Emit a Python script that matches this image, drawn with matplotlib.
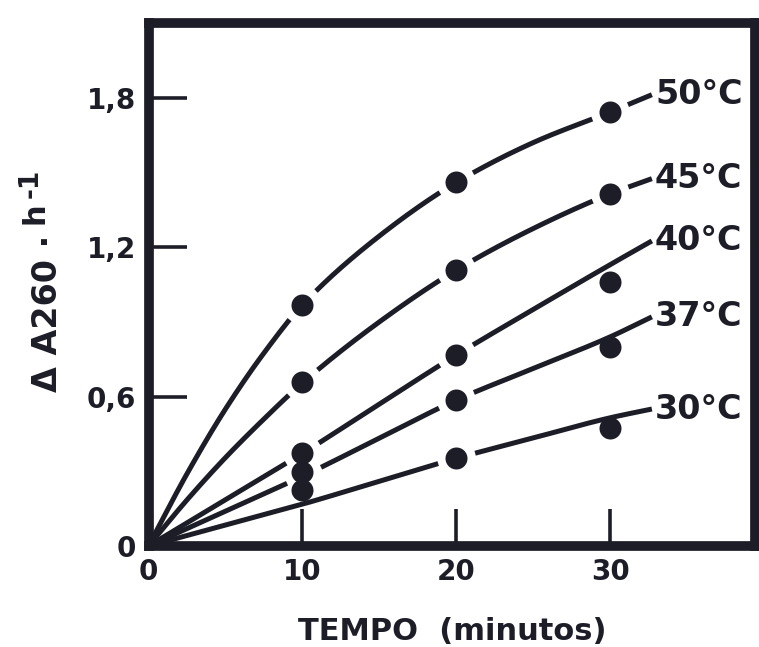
import numpy as np
import matplotlib
matplotlib.use("Agg")
import matplotlib.pyplot as plt

# Hydrolysis kinetics: change in A260 per hour vs. incubation time
time_min = np.array([10, 20, 30])
temps = ["50°C", "45°C", "40°C", "37°C", "30°C"]

a260_50 = [0.968, 1.460, 1.743]
a260_45 = [0.659, 1.108, 1.414]
a260_40 = [0.373, 0.767, 1.060]
a260_37 = [0.297, 0.586, 0.800]
a260_30 = [0.225, 0.353, 0.474]

# hand-drawn trend curves, sampled at these times
curve_t = np.array([0, 2.5, 5, 7.5, 10, 15, 20, 25, 30, 32.7])
curve_50 = [0, 0.290, 0.550, 0.775, 0.968, 1.245, 1.460, 1.620, 1.743, 1.812]
curve_45 = [0, 0.185, 0.355, 0.510, 0.655, 0.900, 1.108, 1.275, 1.414, 1.475]
curve_40 = [0, 0.093, 0.186, 0.279, 0.372, 0.570, 0.767, 0.950, 1.130, 1.225]
curve_37 = [0, 0.070, 0.140, 0.210, 0.280, 0.433, 0.586, 0.713, 0.840, 0.920]
curve_30 = [0, 0.042, 0.084, 0.126, 0.168, 0.260, 0.352, 0.434, 0.515, 0.550]

series = [a260_50, a260_45, a260_40, a260_37, a260_30]
curves = [curve_50, curve_45, curve_40, curve_37, curve_30]

xticks = [0, 10, 20, 30]
yticks = [0, 0.6, 1.2, 1.8]
ytick_labels = ["0", "0,6", "1,2", "1,8"]

INK = "#1d1d27"
plt.rcParams["font.family"] = ["DejaVu Sans"]

W, H = 759, 647
fig = plt.figure(figsize=(W / 100, H / 100), dpi=100)
ax = fig.add_axes([148.5 / W, 1 - 546 / H, (755 - 148.5) / W, (546 - 23) / H])
ax.set_xlim(0, 39.4)
ax.set_ylim(0, 2.10)

for s in ax.spines.values():
    s.set_linewidth(7)
    s.set_color(INK)

ax.set_xticks(xticks)
ax.set_xticklabels([str(v) for v in xticks])
ax.set_yticks(yticks)
ax.set_yticklabels(ytick_labels)
ax.tick_params(direction="in", length=27, width=2.6, color=INK,
               labelsize=20, labelcolor=INK, pad=9)
for lab in ax.get_xticklabels() + ax.get_yticklabels():
    lab.set_fontweight("bold")


def pchip(xn, yn, x):
    # monotone piecewise cubic Hermite interpolation (Fritsch-Carlson)
    xn = np.asarray(xn, float)
    yn = np.asarray(yn, float)
    h = np.diff(xn)
    delta = np.diff(yn) / h
    m = np.zeros_like(yn)
    for k in range(1, len(xn) - 1):
        if delta[k - 1] * delta[k] > 0:
            w1 = 2 * h[k] + h[k - 1]
            w2 = h[k] + 2 * h[k - 1]
            m[k] = (w1 + w2) / (w1 / delta[k - 1] + w2 / delta[k])
    m[0] = delta[0]
    m[-1] = delta[-1]
    idx = np.clip(np.searchsorted(xn, x) - 1, 0, len(h) - 1)
    s = (x - xn[idx]) / h[idx]
    h00 = 2 * s ** 3 - 3 * s ** 2 + 1
    h10 = s ** 3 - 2 * s ** 2 + s
    h01 = -2 * s ** 3 + 3 * s ** 2
    h11 = s ** 3 - s ** 2
    return (h00 * yn[idx] + h10 * h[idx] * m[idx]
            + h01 * yn[idx + 1] + h11 * h[idx] * m[idx + 1])


fig.canvas.draw()
marker_px = 22
gap_px = 19
tt = np.linspace(0, curve_t[-1], 1200)

for name, vals, cnodes in zip(temps, series, curves):
    yy = pchip(curve_t, cnodes, tt)
    disp = ax.transData.transform(np.column_stack([tt, yy]))
    pts = ax.transData.transform(np.column_stack([time_min, vals]))
    mask = np.zeros(tt.shape, dtype=bool)
    for p in pts:
        d = np.hypot(disp[:, 0] - p[0], disp[:, 1] - p[1])
        if d.min() < 7:  # the curve runs through this point: leave a gap
            mask |= d < gap_px
    yplot = np.where(mask, np.nan, yy)
    ax.plot(tt, yplot, color=INK, lw=3.6, solid_capstyle="butt", zorder=2)
    ax.plot(time_min, vals, "o", ms=marker_px * 0.72, color=INK,
            mec=INK, mew=0, zorder=3)
    ax.text(curve_t[-1] + 0.2, cnodes[-1], name, ha="left", va="center",
            fontsize=24, color=INK, fontweight="bold")

ax.set_xlabel("TEMPO  (minutos)", fontsize=22, color=INK, fontweight="bold",
              labelpad=22)

# vertical axis title, lettered piece by piece
fig.text(57 / W, 1 - 392 / H, "Δ A260 ·", rotation=90, rotation_mode="anchor",
         ha="left", va="baseline", fontsize=24, color=INK, fontweight="bold")
fig.text(44 / W, 1 - 224 / H, "h", rotation=90, rotation_mode="anchor",
         ha="left", va="baseline", fontsize=22, color=INK, fontweight="bold")
fig.text(38 / W, 1 - 198 / H, "-1", rotation=90, rotation_mode="anchor",
         ha="left", va="baseline", fontsize=19, color=INK, fontweight="bold")

fig.savefig("out.png", dpi=100, facecolor="white")
